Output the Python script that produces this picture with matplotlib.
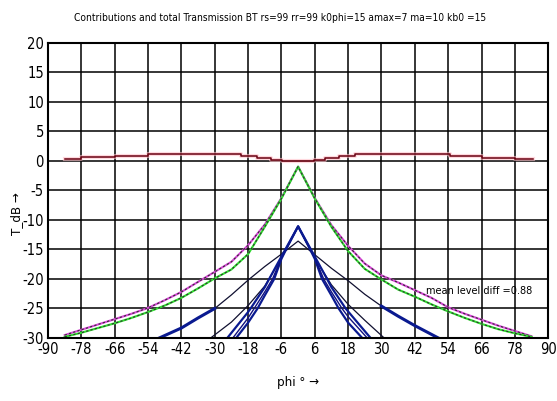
import matplotlib
matplotlib.use('Agg')
import matplotlib.pyplot as plt

plt.rcParams['font.family'] = ['DejaVu Sans']
plt.rcParams['font.stretch'] = 'condensed'
plt.rcParams['axes.unicode_minus'] = False

# level difference step line near 0 dB
phi_lvl = [-84, -78, -66, -54, -20.5, -14.7, -9.7, -5.7, 5.7, 9.7, 14.7, 20.5, 54.5, 66, 78, 84.6]
lvl = [0.27, 0.6, 0.88, 1.2, 0.83, 0.44, 0.15, -0.13, 0.15, 0.44, 0.83, 1.15, 0.88, 0.54, 0.27, 0.27]

# total transmission curves
phi_tot = [-84, -78, -72, -66, -60, -54, -48, -42, -36, -30, -24, -18, -12, -6, 0,
           6, 12, 18, 24, 30, 36, 42, 48, 54, 60, 66, 72, 78, 84]
t_magenta = [-29.5, -28.6, -27.7, -26.8, -25.9, -24.9, -23.6, -22.2, -20.5, -18.8, -17.1, -14.3, -10.8, -6.3, -1.0,
             -6.3, -10.9, -14.4, -17.4, -19.4, -20.6, -21.9, -23.2, -24.8, -25.9, -26.9, -27.9, -28.8, -29.7]
t_green = [-29.8, -29.1, -28.3, -27.5, -26.6, -25.6, -24.5, -23.2, -21.6, -19.9, -18.4, -15.8, -11.2, -6.4, -1.0,
           -6.4, -11.2, -15.3, -18.3, -20.1, -21.8, -23.0, -24.3, -25.5, -26.6, -27.6, -28.5, -29.2, -29.8]

# wide contribution (thin black inside, thick blue outside)
phi_wide = [-50, -42, -36, -30, -24, -18, -12, -6, 0, 6, 12, 18, 24, 30, 36, 42, 50.5]
t_wide = [-30, -28.3, -26.6, -25.0, -22.7, -20.2, -17.9, -15.8, -13.6, -15.9, -18.2, -20.3, -22.6, -24.6, -26.3, -27.9, -30]

# second black contribution
phi_b2 = [-31.5, -24, -18, -12, -6, 0, 6, 12, 18, 24, 31]
t_b2 = [-30, -27.3, -24.5, -21.2, -16.5, -11.1, -16.5, -21.0, -24.3, -27.0, -30]

# narrow blue contributions
phi_n1 = [-22.3, -18, -14.6, -12, -8.6, -6, -4, 0, 4, 6, 8.6, 12, 14.6, 18, 23.1]
t_n1 = [-30, -27.4, -25, -22.8, -20, -16.6, -14.7, -11.1, -14.7, -16.6, -20, -22.8, -25, -27.4, -30]
phi_n2 = [-23.5, -18, -15.8, -12, -9.2, -6, 0, 6, 9.2, 12, 15.8, 18, 24.9]
t_n2 = [-30, -26.6, -25, -22.2, -20, -16.4, -11.1, -16.4, -20, -22.2, -25, -26.4, -30]
phi_n3 = [-25.5, -18, -17.1, -12, -10.4, -6, 0, 6, 10.4, 12, 17.1, 18, 26.1]
t_n3 = [-30, -25.6, -25, -21.4, -20, -16.2, -11.1, -16.2, -20, -21.4, -25, -25.5, -30]

xticks = [-90, -78, -66, -54, -42, -30, -18, -6, 6, 18, 30, 42, 54, 66, 78, 90]
yticks = [-30, -25, -20, -15, -10, -5, 0, 5, 10, 15, 20]

fig = plt.figure(figsize=(5.57, 4.01), dpi=100)
ax = fig.add_axes([0.0862, 0.157, 0.898, 0.737])

ax.step(phi_lvl, lvl, where='post', color='#ffc0c8', lw=3, alpha=0.6)
ax.step(phi_lvl, lvl, where='post', color='#6a0010', lw=1.1)

ax.plot(phi_tot, t_magenta, color='#d848d8', lw=1.5)
ax.plot(phi_tot, t_magenta, color='#303030', lw=0.8, dashes=(2, 2))
ax.plot(phi_tot, t_green, color='#30e030', lw=1.5)
ax.plot(phi_tot, t_green, color='#303030', lw=0.8, dashes=(2, 2))

ax.plot(phi_wide, t_wide, color='#101030', lw=0.9)
ax.plot(phi_wide[:4], t_wide[:4], color='#0a1a90', lw=2.2)
ax.plot(phi_wide[-4:], t_wide[-4:], color='#0a1a90', lw=2.2)
ax.plot(phi_b2, t_b2, color='#101030', lw=0.9)
ax.plot(phi_n1, t_n1, color='#0a1a90', lw=1.6)
ax.plot(phi_n2, t_n2, color='#101080', lw=1.0)
ax.plot(phi_n3, t_n3, color='#0a1a90', lw=1.6)

ax.text(46, -22.1, 'mean level diff =0.88', fontsize=7.8, va='center', ha='left')

ax.set_xlim(-90, 90)
ax.set_ylim(-30, 20)
ax.set_xticks(xticks)
ax.set_yticks(yticks)
ax.tick_params(length=0, labelsize=10.5, pad=3)
ax.grid(True, color='black', lw=1.1)
for s in ax.spines.values():
    s.set_linewidth(1.5)

ax.set_xlabel('phi ° →', fontsize=9.5)
ax.set_ylabel('T_dB →', fontsize=9.5)
ax.yaxis.set_label_coords(-0.05, 0.42)
ax.xaxis.set_label_coords(0.5, -0.13)
fig.text(0.503, 0.955, 'Contributions and total Transmission BT rs=99 rr=99 k0phi=15 amax=7 ma=10 kb0 =15',
         ha='center', va='center', fontsize=7.3)

fig.savefig('out.png', dpi=100)
